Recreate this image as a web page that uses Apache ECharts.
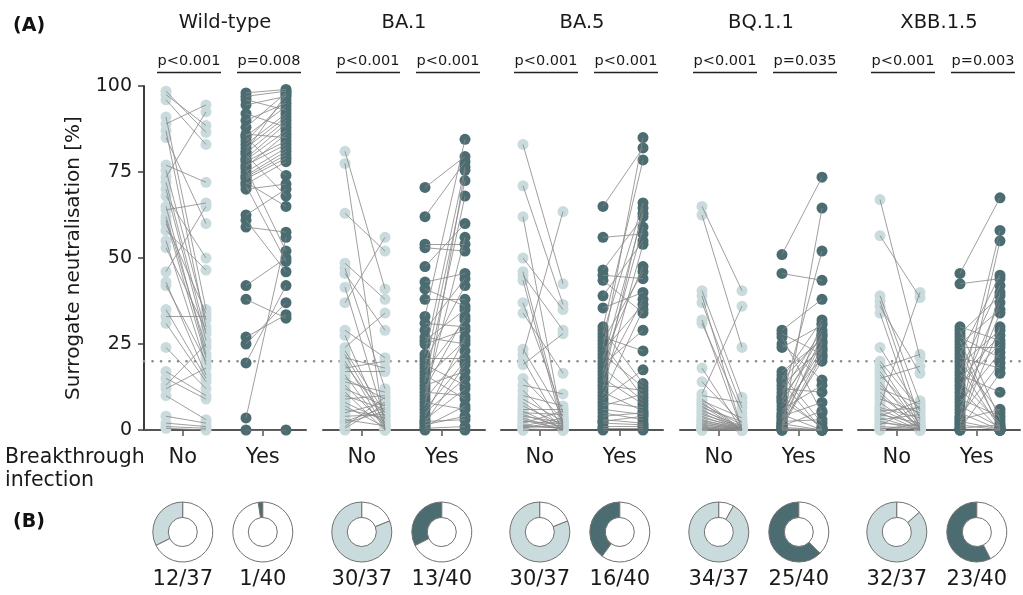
<!DOCTYPE html>
<html><head><meta charset="utf-8">
<script src="https://cdn.jsdelivr.net/npm/echarts@6/dist/echarts.min.js"></script>
<style>html,body{margin:0;padding:0;background:#fff}#c{width:1023px;height:595px}</style>
</head><body><div id="c"></div>
<script>
// ---------- data ----------
const variants = ['Wild-type', 'BA.1', 'BA.5', 'BQ.1.1', 'XBB.1.5'];
const groupLabels = ['No', 'Yes'];
const pNo = ['p<0.001', 'p<0.001', 'p<0.001', 'p<0.001', 'p<0.001'];
const pYes = ['p=0.008', 'p<0.001', 'p<0.001', 'p=0.035', 'p=0.003'];
const yTicks = [0, 25, 50, 75, 100];
const threshold = 20;
const noBelow = [12, 30, 30, 34, 32];
const yesBelow = [1, 13, 16, 25, 23];
const noTotal = 37;
const yesTotal = 40;

// paired values: pre[i] is connected to post[i]
const wtNoPre = [98.5,97.5,96,91,89,87,85,77,75.5,73.5,72,70,68,65,64,62,61,60,58,55,53,46,43,42,35,33,31,24,17,15,13,12,10,4,2,1,0.5];
const wtNoPost = [86.5,88.5,83,35,94.5,30,60,72,32,92.5,28,26,50,22,66,24,21,34,46.5,19,29,65,16,20,15,33,14,12,10,9,25,18,3,2,1,0.5,0];
const wtYesPre = [98,97,96,94.5,92,90,88,86,85.5,85,84,83,82,81,80.5,80,79,78.5,78,77,76.5,76,75,74,73.5,73,72,71.5,71,70,62.5,61,59,42,38,27,25,19.5,3.5,0];
const wtYesPost = [99,98.5,93,97,88,95,98,85,94,74,96,92,91,97.5,90,68,89,87,84,83,86,52,82,81,80,79,65,78,49,71.5,70,46,57.5,50,32.5,33.5,37,42,56,0];

const ba1NoPre = [81,77.5,63,48.5,47,45.5,41.5,37,29,27.5,24,23,22,21,20,19,18,17,16,15,14,13,12,11,10,9,8,7,6,5,4,3,2.5,2,1,0.5,0];
const ba1NoPost = [41,0,52,38,12,29,3,56,21,1,34,5,2,18,0.5,4,20,17,0.3,9,11,1.5,7,0,6,10,2.5,0.8,3.5,8,4.5,1.2,6.5,5.5,9.5,7.5,0];
const ba1YesPre = [70.5,62,54,53,47.5,43,41,38,33,31,29,27,26,25,22,21,20,19,18,17,16,15,14,13,12,11,10,9,8,7,6,5,4,3,2.5,2,1.5,1,0.5,0];
const ba1YesPost = [79.5,78,54,52,60,45.5,36,38,84.5,30,44,25,35,29,76.5,21,42,13,72.5,32,9,26,68,17,33,10,56,23,6,75.5,20,15,27,12,3,19,4,7,1,0];

const ba5NoPre = [83,71,62,50,46,45,43.5,37,34,23.5,22,20.5,19,15,13,11.5,10,9,8,7,6,5.5,5,4.5,4,3.5,3,2.5,2,1.5,1.2,1,0.8,0.5,0.3,0,0];
const ba5NoPost = [42.5,36.5,1,35,2,29,0.5,5,16.5,4,63.5,0,28,3,10.5,0.3,7,2.5,0,1.5,6,0.2,4.5,0.8,2.2,0.1,0,1.8,5.5,0.4,3.5,0.6,1.3,2.8,0,0,0];
const ba5YesPre = [65,56,46.5,45,43.5,39,35.5,30,29,28,27,26,25,24,23,22,21,20,19,18,17,16,15,14,13,12,11,10,9,8,7,6,5,4,3,2.5,2,1,0.5,0];
const ba5YesPost = [82,57,62,44,34,55,40,78.5,13.5,66,23,46,9.5,85,36.5,12.5,47.5,63,29,8.5,59,38,7.5,64.5,11.5,54,5.5,35,17.5,6.5,10.5,4.5,3,5,2,4,1.5,1,0.5,0];

const bqNoPre = [65,62.5,40.5,39,37,32,31,18,14,10.5,10,9,8.5,8,7.5,7,6.5,6,5.5,5,4.5,4,3.5,3,2.7,2.4,2,1.7,1.4,1.1,0.8,0.6,0.4,0.2,0,0,0];
const bqNoPost = [40.5,24,9.5,0,6.5,0,5,0,2,36,8,0,3.5,0,1.5,0,2.5,0,1.2,0,1,0,0.8,0,0.6,0,0.5,0,0.4,0,0.3,0,0.2,0,0.1,0,0];
const bqYesPre = [51,45.5,29,28,27,25,24,17,16,15,14.5,14,13,12,11,10,9.5,9,8.5,8,7,6,5,4.5,4,3.5,3,2.5,2,1.8,1.5,1.2,1,0.8,0.6,0.4,0.2,0,0,0];
const bqYesPost = [73.5,43.5,38,22,5,14.5,30.5,26,2,32,27,0,24,11,29,0.5,25,52,1,28,21,13,23.5,0,8,31,25.5,3,20,0,27.5,5.5,23,0,21.5,0,0.2,64.5,0,0];

const xbbNoPre = [67,56.5,39,37.5,36,34,24,20,19,18,17,16,15,14,13,12,11,10,9,8,7,6.5,6,5.5,5,4.5,4,3.5,3,2.5,2,1.5,1,0.5,0.2,0,0];
const xbbNoPost = [21,38.5,8,3,16.5,0,5.5,6,1.5,22,0.6,4,18.5,0,2.5,7.5,0.3,1,5,0,40,3.5,0.8,6.5,0,2,8.5,0.1,4.5,0,1.2,7,0.4,0.2,1.8,0,0];
const xbbYesPre = [45.5,42.5,30,29,28,27,26,25,24,23,22,21,20,19,18,17,16,15,14,13,12,11,10,9,8,7,6,5,4,3.5,3,2.5,2,1.5,1,0.5,0.2,0,0,0];
const xbbYesPost = [67.5,44,26,3,39,21,0,35,24,1,45,18,5,29,0.5,42,11,27.5,2,25,0,37,58,4,22.5,0.8,34,0,19.5,55,6,0.2,30,0,40,1.5,16.5,0,0,0];

const panels = [
  [wtNoPre, wtNoPost, wtYesPre, wtYesPost],
  [ba1NoPre, ba1NoPost, ba1YesPre, ba1YesPost],
  [ba5NoPre, ba5NoPost, ba5YesPre, ba5YesPost],
  [bqNoPre, bqNoPost, bqYesPre, bqYesPost],
  [xbbNoPre, xbbNoPost, xbbYesPre, xbbYesPost]
];

// ---------- layout & style ----------
const FONT = '"DejaVu Sans", "Liberation Sans", Arial, sans-serif';
const LIGHT = '#c9dbdc';
const DARK = '#4b6c70';
const AXIS = '#3c3c3c';
const TXT = '#1a1a1a';
const gridLefts = [144, 323, 501, 680, 858];
const gridW = 162, gridTop = 86, gridH = 344;
const xMin = 0.45, xMax = 4.5;
const tickVals = [1.42, 3.42];
const xPx = (i, v) => gridLefts[i] + (v - xMin) * gridW / (xMax - xMin);

const grids = [], xAxes = [], yAxes = [], series = [], graphics = [];

variants.forEach((name, i) => {
  grids.push({left: gridLefts[i], top: gridTop, width: gridW, height: gridH});
  xAxes.push({
    type: 'value', gridIndex: i, min: xMin, max: xMax,
    splitLine: {show: false},
    axisLine: {show: true, onZero: false, lineStyle: {color: '#555', width: 2}},
    axisTick: {show: true, customValues: tickVals, length: 6, lineStyle: {color: '#555', width: 1.5}},
    axisLabel: {customValues: tickVals, margin: 17, fontSize: 21, color: TXT, fontFamily: FONT,
      formatter: v => (v < 2.5 ? groupLabels[0] : groupLabels[1])}
  });
  yAxes.push(i === 0 ? {
    type: 'value', gridIndex: 0, min: yTicks[0], max: yTicks[yTicks.length - 1], interval: 25,
    name: 'Surrogate neutralisation [%]', nameLocation: 'middle', nameGap: 60,
    nameTextStyle: {fontSize: 20, color: TXT, fontFamily: FONT},
    splitLine: {show: false},
    axisLine: {show: true, lineStyle: {color: AXIS, width: 2}},
    axisTick: {show: true, length: 6, lineStyle: {color: AXIS, width: 1.5}},
    axisLabel: {fontSize: 19, color: TXT, margin: 12, fontFamily: FONT}
  } : {
    type: 'value', gridIndex: i, min: 0, max: 100, show: false, splitLine: {show: false}
  });

  const [noPre, noPost, yesPre, yesPost] = panels[i];
  const lineStyle = {color: '#878787', width: 0.85, opacity: 0.95};
  series.push({
    type: 'lines', coordinateSystem: 'cartesian2d', xAxisIndex: i, yAxisIndex: i, silent: true, z: 4,
    lineStyle, data: noPre.map((v, k) => ({coords: [[1, v], [2, noPost[k]]]}))
  });
  series.push({
    type: 'lines', coordinateSystem: 'cartesian2d', xAxisIndex: i, yAxisIndex: i, silent: true, z: 4,
    lineStyle, data: yesPre.map((v, k) => ({coords: [[3, v], [4, yesPost[k]]]}))
  });
  series.push({
    type: 'scatter', xAxisIndex: i, yAxisIndex: i, symbolSize: 11, clip: false, silent: true, z: 3,
    itemStyle: {color: LIGHT, opacity: 1},
    data: noPre.map(v => [1, v]).concat(noPost.map(v => [2, v]))
  });
  series.push({
    type: 'scatter', xAxisIndex: i, yAxisIndex: i, symbolSize: 11, clip: false, silent: true, z: 3,
    itemStyle: {color: DARK, opacity: 1},
    data: yesPre.map(v => [3, v]).concat(yesPost.map(v => [4, v]))
  });

  // donuts (B)
  const pieBase = {type: 'pie', radius: [14.5, 30], startAngle: 90, clockwise: false, silent: true,
    label: {show: false}, labelLine: {show: false}, emphasis: {disabled: true},
    itemStyle: {borderColor: '#707070', borderWidth: 1}};
  series.push(Object.assign({}, pieBase, {
    center: [xPx(i, tickVals[0]), 532],
    data: [{value: noBelow[i], itemStyle: {color: LIGHT}}, {value: noTotal - noBelow[i], itemStyle: {color: '#ffffff'}}]
  }));
  series.push(Object.assign({}, pieBase, {
    center: [xPx(i, tickVals[1]), 532],
    data: [{value: yesBelow[i], itemStyle: {color: DARK}}, {value: yesTotal - yesBelow[i], itemStyle: {color: '#ffffff'}}]
  }));

  // texts
  const txt = (text, x, y, size, extra) => graphics.push({type: 'text', x, y, silent: true,
    style: Object.assign({text, fontSize: size, fontFamily: FONT, fill: TXT, align: 'center', verticalAlign: 'middle'}, extra || {})});
  txt(name, gridLefts[i] + gridW / 2, 23, 19.5);
  const pc1 = xPx(i, 1.5) + 3, pc2 = xPx(i, 3.5) + 3;
  txt(pNo[i], pc1, 61, 14.5);
  txt(pYes[i], pc2, 61, 14.5);
  [pc1, pc2].forEach(c => graphics.push({type: 'line', silent: true,
    shape: {x1: c - 32, y1: 72.5, x2: c + 32, y2: 72.5}, style: {stroke: '#222', lineWidth: 1.3}}));
  txt(noBelow[i] + '/' + noTotal, xPx(i, tickVals[0]), 580, 21);
  txt(yesBelow[i] + '/' + yesTotal, xPx(i, tickVals[1]), 580, 21);
});

// threshold reference line across all panels
grids.push({left: gridLefts[0], top: gridTop, width: gridLefts[4] + gridW - gridLefts[0], height: gridH});
xAxes.push({type: 'value', gridIndex: 5, min: 0, max: 1, show: false});
yAxes.push({type: 'value', gridIndex: 5, min: 0, max: 100, show: false});
series.push({type: 'line', xAxisIndex: 5, yAxisIndex: 5, symbol: 'none', silent: true, z: 1,
  lineStyle: {color: '#8c8c8c', width: 2.6, type: [0.1, 8.4], cap: 'round'},
  data: [[0, threshold], [1, threshold]]});

graphics.push({type: 'text', x: 13, y: 26, silent: true,
  style: {text: '(A)', fontSize: 19, fontWeight: 'bold', fontFamily: FONT, fill: '#111', align: 'left', verticalAlign: 'middle'}});
graphics.push({type: 'text', x: 13, y: 522, silent: true,
  style: {text: '(B)', fontSize: 19, fontWeight: 'bold', fontFamily: FONT, fill: '#111', align: 'left', verticalAlign: 'middle'}});
graphics.push({type: 'text', x: 5, y: 446, silent: true,
  style: {text: 'Breakthrough\ninfection', fontSize: 20.5, lineHeight: 23, fontFamily: FONT, fill: TXT, align: 'left', verticalAlign: 'top'}});

const chart = echarts.init(document.getElementById('c'));
chart.setOption({
  animation: false,
  textStyle: {fontFamily: FONT},
  grid: grids, xAxis: xAxes, yAxis: yAxes, series, graphic: graphics
});
</script></body></html>
